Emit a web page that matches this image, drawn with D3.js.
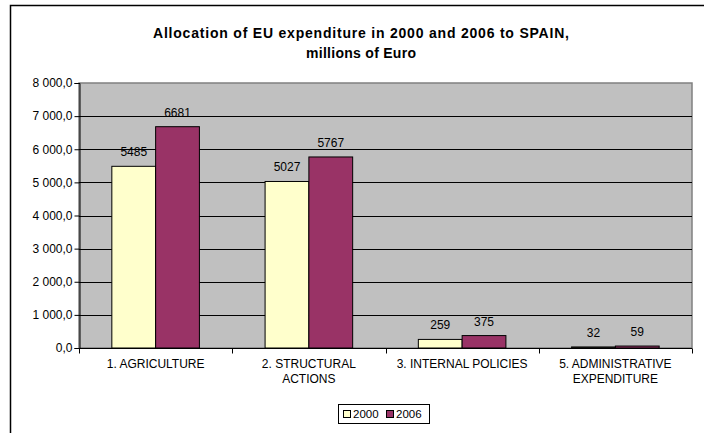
<!DOCTYPE html>
<html>
<head>
<meta charset="utf-8">
<script src="https://cdn.jsdelivr.net/npm/d3@7/dist/d3.min.js"></script>
<style>
  html, body { margin: 0; padding: 0; background: #fff; }
  svg { display: block; font-family: "Liberation Sans", Arial, sans-serif; }
</style>
</head>
<body>
<svg id="chart" width="704" height="433"></svg>
<script>
const categories = [["1. AGRICULTURE"], ["2. STRUCTURAL", "ACTIONS"], ["3. INTERNAL POLICIES"], ["5. ADMINISTRATIVE", "EXPENDITURE"]];
const seriesNames = ["2000", "2006"];
const values2000 = [5485, 5027, 259, 32];
const values2006 = [6681, 5767, 375, 59];
const yTicks = [0, 1000, 2000, 3000, 4000, 5000, 6000, 7000, 8000];
const titleLines = ["Allocation of EU expenditure in 2000 and 2006 to SPAIN,", "millions of Euro"];
const colors = ["#FFFFCC", "#993366"];

const svg = d3.select("#chart");
const plot = { left: 79, right: 692, top: 83, bottom: 348 };

// chart border
svg.append("rect").attr("x", 10.5).attr("y", 5.5).attr("width", 740).attr("height", 460)
  .attr("fill", "#fff").attr("stroke", "#000").attr("stroke-width", 1.5);

// title
const title = svg.append("text").attr("text-anchor", "middle").attr("font-weight", "bold")
  .attr("font-size", 14).attr("fill", "#000");
const titleWidths = [416, 110];
titleLines.forEach((t, k) => {
  title.append("tspan").attr("x", 361).attr("y", 38 + k * 20)
    .attr("textLength", titleWidths[k]).attr("lengthAdjust", "spacing").text(t);
});

const x = d3.scaleBand().domain(d3.range(categories.length)).range([plot.left, plot.right]).paddingInner(0).paddingOuter(0);
const y = d3.scaleLinear().domain([0, 8000]).range([plot.bottom, plot.top]);

// plot area
svg.append("rect").attr("x", plot.left).attr("y", plot.top)
  .attr("width", plot.right - plot.left).attr("height", plot.bottom - plot.top)
  .attr("fill", "#C0C0C0").attr("stroke", "#808080").attr("stroke-width", 1.5);

// gridlines
svg.append("g").selectAll("line").data(yTicks.filter(d => d > 0 && d < 8000)).join("line")
  .attr("x1", plot.left).attr("x2", plot.right)
  .attr("y1", d => Math.round(y(d)) + 0.5).attr("y2", d => Math.round(y(d)) + 0.5)
  .attr("stroke", "#000").attr("stroke-width", 1);

// bars
const bw = x.bandwidth() / 3.5;
const off = x.bandwidth() * 0.75 / 3.5;
const data = [];
categories.forEach((c, i) => {
  data.push({ i, s: 0, v: values2000[i] });
  data.push({ i, s: 1, v: values2006[i] });
});
const gb = svg.append("g");
gb.selectAll("rect").data(data).join("rect")
  .attr("x", d => x(d.i) + off + d.s * bw)
  .attr("y", d => y(d.v))
  .attr("width", bw)
  .attr("height", d => y(0) - y(d.v))
  .attr("fill", d => colors[d.s])
  .attr("stroke", "#000").attr("stroke-width", 1);

gb.selectAll("text").data(data).join("text")
  .attr("x", d => x(d.i) + off + d.s * bw + bw / 2)
  .attr("y", d => y(d.v) - 10)
  .attr("text-anchor", "middle").attr("font-size", 12).attr("fill", "#000")
  .text(d => d.v);

// y axis
const fmt = d => {
  const s = d3.format(".1f")(d).replace(".", ",");
  const [ip, dp] = s.split(",");
  return ip.replace(/\B(?=(\d{3})+(?!\d))/g, " ") + "," + dp;
};
const yAxis = d3.axisLeft(y).tickValues(yTicks).tickSize(5).tickPadding(2).tickFormat(fmt);
const gy = svg.append("g").attr("transform", `translate(${plot.left + 0.5},0)`).call(yAxis);
gy.select(".domain").attr("stroke", "#000");
gy.selectAll(".tick line").attr("stroke", "#000");
gy.selectAll(".tick text").attr("font-size", 12).attr("fill", "#000")
  .attr("font-family", "\"Liberation Sans\", Arial, sans-serif");

// x axis
const gx = svg.append("g").attr("transform", `translate(0,${plot.bottom + 0.5})`);
gx.append("line").attr("x1", plot.left).attr("x2", plot.right).attr("stroke", "#000");
const boundaries = d3.range(categories.length + 1).map(i => plot.left + i * x.bandwidth());
gx.selectAll("line.tk").data(boundaries).join("line").attr("class", "tk")
  .attr("x1", d => Math.round(d) + 0.5).attr("x2", d => Math.round(d) + 0.5)
  .attr("y1", 0).attr("y2", 5).attr("stroke", "#000");
gx.selectAll("text").data(categories).join("text")
  .attr("text-anchor", "middle").attr("font-size", 12).attr("fill", "#000")
  .each(function (c, i) {
    const t = d3.select(this);
    c.forEach((line, k) => {
      t.append("tspan").attr("x", x(i) + x.bandwidth() / 2).attr("y", 19 + k * 15).text(line);
    });
  });

// legend
const lg = svg.append("g").attr("transform", "translate(338,404)");
lg.append("rect").attr("x", 0.5).attr("y", 0.5).attr("width", 91).attr("height", 19)
  .attr("fill", "#fff").attr("stroke", "#000");
const items = lg.selectAll("g").data(seriesNames).join("g")
  .attr("transform", (d, i) => `translate(${5 + i * 43},0)`);
items.append("rect").attr("x", 0.5).attr("y", 6.5).attr("width", 7).attr("height", 7)
  .attr("fill", (d, i) => colors[i]).attr("stroke", "#000");
items.append("text").attr("x", 10).attr("y", 14).attr("font-size", 11.5).attr("fill", "#000").text(d => d);
</script>
</body>
</html>
